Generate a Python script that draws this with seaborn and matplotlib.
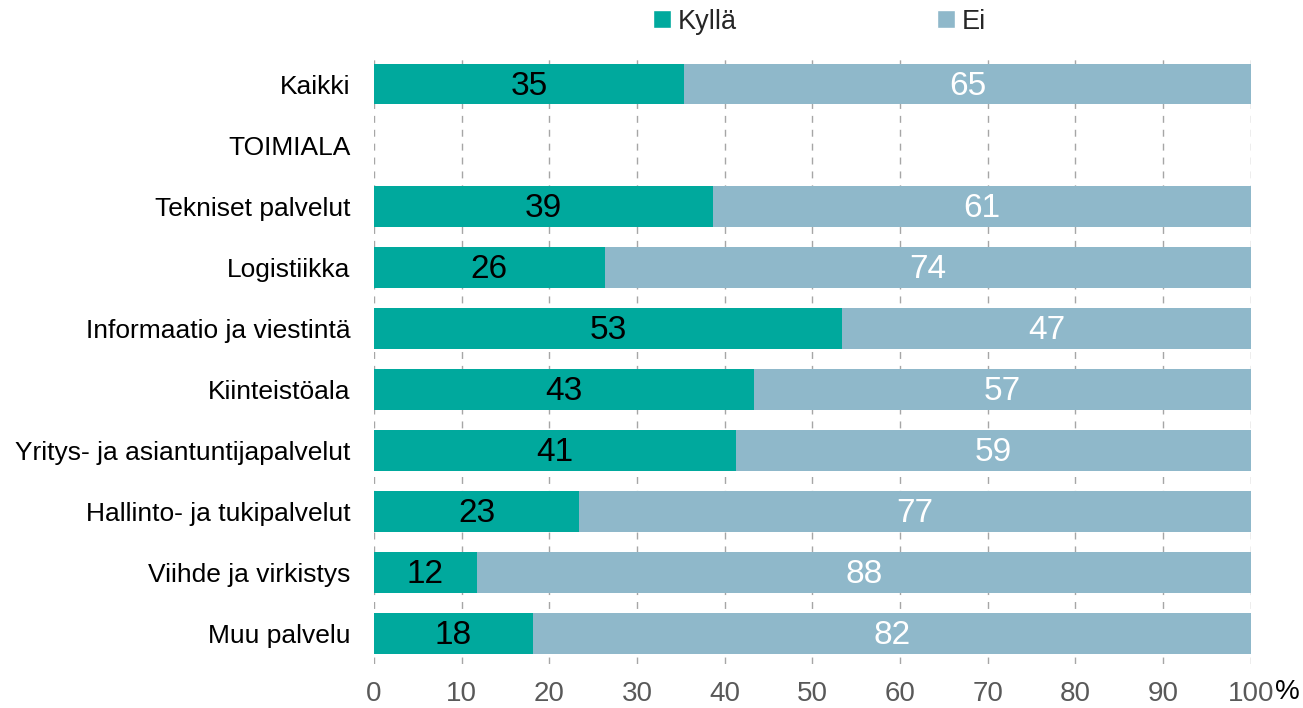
import numpy as np
import pandas as pd
import matplotlib
matplotlib.use("Agg")
import matplotlib.pyplot as plt
import seaborn as sns
from matplotlib.patches import Patch

# Data
categories = ["Kaikki", "TOIMIALA", "Tekniset palvelut", "Logistiikka",
              "Informaatio ja viestintä", "Kiinteistöala",
              "Yritys- ja asiantuntijapalvelut", "Hallinto- ja tukipalvelut",
              "Viihde ja virkistys", "Muu palvelu"]
kylla = [35.4, np.nan, 38.7, 26.3, 53.4, 43.3, 41.3, 23.4, 11.7, 18.1]
ei = [64.6, np.nan, 61.3, 73.7, 46.6, 56.7, 58.7, 76.6, 88.3, 81.9]
xticks = [0, 10, 20, 30, 40, 50, 60, 70, 80, 90, 100]

green = "#00A99D"
blue = "#8FB8CA"

sns.set_style("white")
plt.rcParams["font.family"] = ["Liberation Sans", "DejaVu Sans"]

df = pd.DataFrame({"cat": categories, "Kyllä": kylla, "Ei": ei})
df["total"] = df["Kyllä"] + df["Ei"]

fig = plt.figure(figsize=(13.03, 7.08), dpi=100)
ax = fig.add_axes([0.287, 0.062, 0.673, 0.862])

sns.barplot(data=df, x="total", y="cat", color=blue, width=0.66,
            orient="h", ax=ax, saturation=1, linewidth=0)
sns.barplot(data=df, x="Kyllä", y="cat", color=green, width=0.66,
            orient="h", ax=ax, saturation=1, linewidth=0)

# value labels
for i, (k, e) in enumerate(zip(kylla, ei)):
    if np.isnan(k):
        continue
    ax.text(k / 2, i + 0.03, f"{k:.0f}", ha="center", va="center", fontsize=24, color="black")
    ax.text(k + e / 2, i + 0.03, f"{e:.0f}", ha="center", va="center", fontsize=24, color="white")

ax.set_xlim(0, 100)
ax.set_ylim(len(categories) - 0.5, -0.5)
ax.set_xticks(xticks)
ax.set_xticklabels([str(t) for t in xticks], fontsize=20, color="#595959")
ax.tick_params(axis="x", length=0, pad=12)
ax.tick_params(axis="y", length=0, pad=17, labelsize=19, labelcolor="black")
ax.set_xlabel("")
ax.set_ylabel("")
ax.set_axisbelow(True)
ax.grid(axis="x", color="#A6A6A6", linestyle=(0, (5, 5)), linewidth=1)
ax.grid(axis="y", visible=False)
for s in ax.spines.values():
    s.set_visible(False)

fig.text(0.988, 0.023, "%", fontsize=20, color="black", ha="center", va="center")

handles = [Patch(facecolor=green, label="Kyllä"), Patch(facecolor=blue, label="Ei")]
fig.legend(handles=handles, loc="upper center", bbox_to_anchor=(0.629, 1.022), ncol=2,
           frameon=False, fontsize=19.5, handlelength=0.65, handleheight=0.65,
           handletextpad=0.25, columnspacing=7.4)

fig.savefig("out.png", dpi=100)
